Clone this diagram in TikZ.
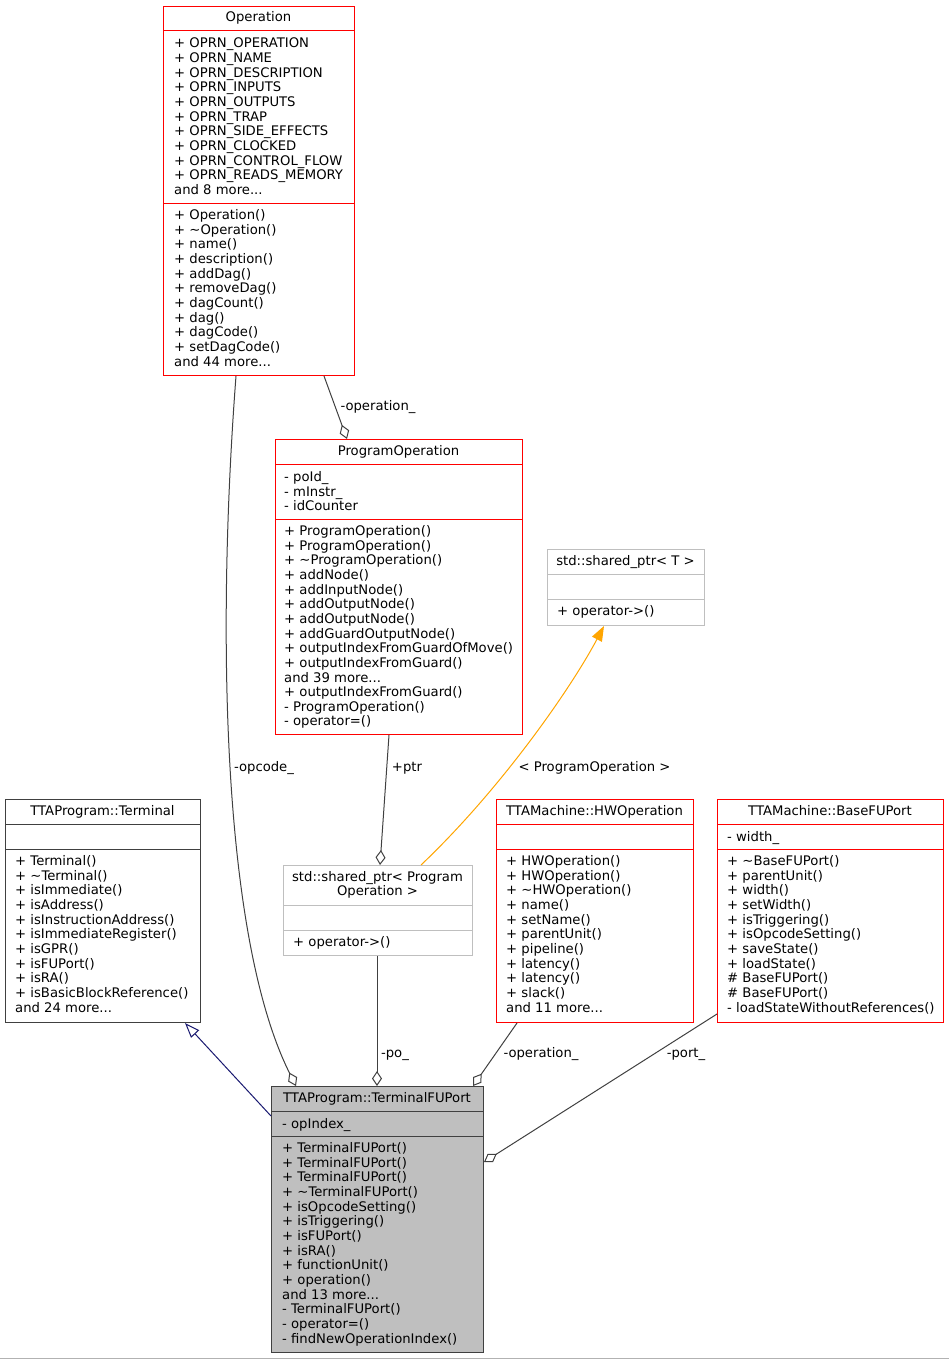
\documentclass[tikz,border=0pt]{standalone}
\usepackage{fontspec}
\setmainfont{DejaVu Sans}
\usetikzlibrary{arrows.meta,calc}
\definecolor{edgegray}{HTML}{404040}
\definecolor{boxgray}{HTML}{BFBFBF}
\definecolor{boxred}{HTML}{FF0000}
\definecolor{navyedge}{HTML}{191970}
\definecolor{tmplorange}{HTML}{FFA500}
\newcommand\tdots{...}
\tikzset{
  classbox/.style={anchor=north west, inner sep=0pt, line width=1pt, fill=white},
  txt/.style={anchor=base west, inner sep=0pt, font=\fontsize{13.2}{14.65}\selectfont},
  ttl/.style={anchor=base, inner sep=0pt, font=\fontsize{13.2}{14.65}\selectfont},
  elabel/.style={anchor=base, inner sep=0pt, font=\fontsize{13.2}{14.65}\selectfont},
  edge/.style={draw=edgegray, line width=1pt},
  agg/.style={edge, -{Diamond[open, length=15pt, width=10pt, line width=1pt]}},
  inh/.style={draw=navyedge, line width=1pt, -{Triangle[open, length=15pt, width=11pt, line width=1pt]}},
  tmpl/.style={draw=tmplorange, line width=1pt, -{Triangle[length=15pt, width=11pt]}, fill=none},
}
% #1 name, #2 x1, #3 y1, #4 x2, #5 y2, #6 border colour, #7 fill
\newcommand\mkbox[7]{%
  \node[classbox, draw=#6, fill=#7, minimum width={(#4-#2)*1pt}, minimum height={(#5-#3)*1pt}] (#1) at (#2,#3) {};}
% divider: #1 node, #2 y, #3 colour
\newcommand\mkdiv[3]{\draw[line width=1pt, draw=#3] (#1.west |- 0,#2) -- (#1.east |- 0,#2);}
% text lines: #1 prefix, #2 x, #3 first baseline, #4 list
\newcommand\mklines[4]{\foreach \s [count=\i from 0] in {#4} {\node[txt, name=#1-\i] at (#2,{#3+1+\i*14.65}) {\s};}}
\begin{document}
\begin{tikzpicture}[x=1pt, y=-1pt]
\useasboundingbox (0,0) rectangle (949,1359);
\draw[draw=gray!60, line width=1pt] (0,1358) -- (949,1358);

% ---------- Operation
\mkbox{Op}{163}{6}{354}{375}{boxred}{white}
\mkdiv{Op}{31}{boxred}
\mkdiv{Op}{203}{boxred}
\node[ttl] (Op-t) at (258.5,22) {Operation};
\mklines{OpA}{174}{47}{+ OPRN\_OPERATION, + OPRN\_NAME, + OPRN\_DESCRIPTION, + OPRN\_INPUTS, + OPRN\_OUTPUTS, + OPRN\_TRAP, + OPRN\_SIDE\_EFFECTS, + OPRN\_CLOCKED, + OPRN\_CONTROL\_FLOW, + OPRN\_READS\_MEMORY, and 8 more\tdots}
\mklines{OpM}{174}{218.5}{+ Operation(), + \textasciitilde Operation(), + name(), + description(), + addDag(), + removeDag(), + dagCount(), + dag(), + dagCode(), + setDagCode(), and 44 more\tdots}

% ---------- ProgramOperation
\mkbox{PO}{275}{439}{522}{734}{boxred}{white}
\mkdiv{PO}{464}{boxred}
\mkdiv{PO}{519}{boxred}
\node[ttl] (PO-t) at (398.5,455) {ProgramOperation};
\mklines{POA}{284}{480.5}{- poId\_, - mInstr\_, - idCounter}
\mklines{POM}{284}{534.5}{+ ProgramOperation(), + ProgramOperation(), + \textasciitilde ProgramOperation(), + addNode(), + addInputNode(), + addOutputNode(), + addOutputNode(), + addGuardOutputNode(), + outputIndexFromGuardOfMove(), + outputIndexFromGuard(), and 39 more\tdots, + outputIndexFromGuard(), - ProgramOperation(), - operator=()}

% ---------- std::shared_ptr< T >
\mkbox{SPT}{547}{549}{704}{625}{boxgray}{white}
\mkdiv{SPT}{574}{boxgray}
\mkdiv{SPT}{599.5}{boxgray}
\node[ttl] (SPT-t) at (625.5,565) {std::shared\_ptr< T >};
\mklines{SPTM}{557}{614.6}{+ operator->()}

% ---------- TTAProgram::Terminal
\mkbox{Term}{5}{799}{200}{1022}{edgegray}{white}
\mkdiv{Term}{824}{edgegray}
\mkdiv{Term}{849}{edgegray}
\node[ttl] (Term-t) at (102.5,815) {TTAProgram::Terminal};
\mklines{TermM}{15}{864.6}{+ Terminal(), + \textasciitilde Terminal(), + isImmediate(), + isAddress(), + isInstructionAddress(), + isImmediateRegister(), + isGPR(), + isFUPort(), + isRA(), + isBasicBlockReference(), and 24 more\tdots}

% ---------- std::shared_ptr< ProgramOperation >
\mkbox{SPO}{283}{865}{472}{955}{boxgray}{white}
\mkdiv{SPO}{905}{boxgray}
\mkdiv{SPO}{930.5}{boxgray}
\node[ttl] (SPO-t1) at (377.5,881) {std::shared\_ptr< Program};
\node[ttl] (SPO-t2) at (377.5,895.7) {Operation >};
\mklines{SPOM}{293}{945.6}{+ operator->()}

% ---------- TTAMachine::HWOperation
\mkbox{HW}{496}{799}{693}{1022}{boxred}{white}
\mkdiv{HW}{824}{boxred}
\mkdiv{HW}{849}{boxred}
\node[ttl] (HW-t) at (594.5,815) {TTAMachine::HWOperation};
\mklines{HWM}{506}{864.6}{+ HWOperation(), + HWOperation(), + \textasciitilde HWOperation(), + name(), + setName(), + parentUnit(), + pipeline(), + latency(), + latency(), + slack(), and 11 more\tdots}

% ---------- TTAMachine::BaseFUPort
\mkbox{BF}{717}{799}{943}{1022}{boxred}{white}
\mkdiv{BF}{824}{boxred}
\mkdiv{BF}{849}{boxred}
\node[ttl] (BF-t) at (830,815) {TTAMachine::BaseFUPort};
\mklines{BFA}{727}{840}{- width\_}
\mklines{BFM}{727}{864.6}{+ \textasciitilde BaseFUPort(), + parentUnit(), + width(), + setWidth(), + isTriggering(), + isOpcodeSetting(), + saveState(), + loadState(), \# BaseFUPort(), \# BaseFUPort(), - loadStateWithoutReferences()}

% ---------- TTAProgram::TerminalFUPort
\mkbox{TFU}{271}{1086}{483}{1352}{edgegray}{boxgray}
\mkdiv{TFU}{1111}{edgegray}
\mkdiv{TFU}{1136}{edgegray}
\node[ttl] (TFU-t) at (377,1102) {TTAProgram::TerminalFUPort};
\mklines{TFUA}{282}{1127}{- opIndex\_}
\mklines{TFUM}{282}{1151.6}{+ TerminalFUPort(), + TerminalFUPort(), + TerminalFUPort(), + \textasciitilde TerminalFUPort(), + isOpcodeSetting(), + isTriggering(), + isFUPort(), + isRA(), + functionUnit(), + operation(), and 13 more\tdots, - TerminalFUPort(), - operator=(), - findNewOperationIndex()}

% ---------- connectors
\draw[agg] ($(Op.south west)+(73,0)$) .. controls (217,625) and (221,936) .. ($(TFU.north west)+(25,0)$);
\node[elabel] (l-opcode) at (264,771) {-opcode\_};

\draw[agg] ($(Op.south west)+(161,0)$) -- ($(PO.north west)+(72,0)$);
\node[elabel] (l-op1) at (378,410) {-operation\_};

\draw[agg] ($(PO.south west)+(114,0)$) -- ($(SPO.north west)+(97,0)$);
\node[elabel] (l-ptr) at (407,771) {+ptr};

\draw[tmpl] ($(SPO.north west)+(138,0)$) .. controls (500,790) and (570,690) .. ($(SPT.south west)+(57,0)$);
\node[elabel] (l-tmpl) at (594.5,771) {< ProgramOperation >};

\draw[inh] ($(TFU.north west)+(0,30)$) -- ($(Term.south west)+(180,0)$);

\draw[agg] ($(SPO.south west)+(94,0)$) -- ($(TFU.north west)+(106,0)$);
\node[elabel] (l-po) at (395,1057) {-po\_};

\draw[agg] ($(HW.south west)+(21,0)$) -- ($(TFU.north west)+(202,0)$);
\node[elabel] (l-op2) at (541,1057) {-operation\_};

\draw[agg] ($(BF.south west)+(0,-9)$) -- ($(TFU.north east)+(0,76)$);
\node[elabel] (l-port) at (686,1057) {-port\_};
\end{tikzpicture}
\end{document}
